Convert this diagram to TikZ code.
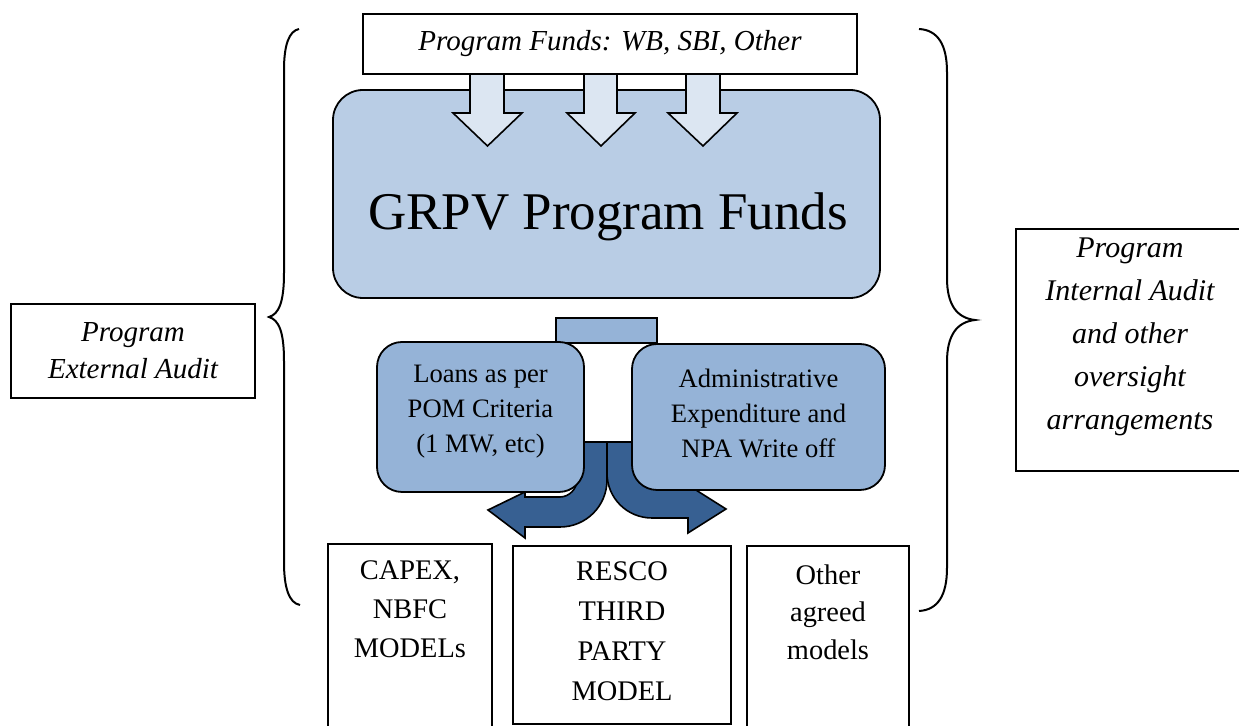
\documentclass[tikz,border=0pt]{standalone}
\usepackage{fontspec}
\setmainfont{Liberation Serif}
\definecolor{grpvfill}{HTML}{B9CDE5}
\definecolor{lightarrow}{HTML}{DCE6F2}
\definecolor{midblue}{HTML}{95B3D7}
\definecolor{darkblue}{HTML}{376092}
\tikzset{
  box/.style={draw=black, line width=0.9pt, fill=white, inner sep=0pt},
  rbox/.style={draw=black, line width=0.9pt, inner sep=0pt, rounded corners=12.5pt, fill=midblue},
  blk/.style={draw=black, line width=0.8pt, line join=miter},
  brace/.style={draw=black, line width=1pt},
  txt/.style={inner sep=0pt, align=center, text=black}
}
\begin{document}
\begin{tikzpicture}[x=0.5pt, y=-0.5pt]
\useasboundingbox (0,0) rectangle (1239,726);

% main funds box
\node[draw=black, line width=0.9pt, fill=grpvfill, rounded corners=15pt, minimum width=273.5pt, minimum height=104pt, inner sep=0pt] (grpv) at (606.5,194) {};
\node[txt, font={\fontsize{26.5}{30}\selectfont}] (grpvtxt) at (608,217) {GRPV Program Funds};

% down arrows
\draw[blk, fill=lightarrow] (470,74) -- (470,113) -- (453,113) -- (487.5,146) -- (522,113) -- (504,113) -- (504,74) -- cycle;
\draw[blk, fill=lightarrow] (584,74) -- (584,113) -- (567,113) -- (601,146) -- (635,113) -- (617,113) -- (617,74) -- cycle;
\draw[blk, fill=lightarrow] (686,74) -- (686,113) -- (668,113) -- (703,146) -- (737,113) -- (720,113) -- (720,74) -- cycle;

% top box
\node[box, minimum width=247pt, minimum height=30pt] (top) at (610,44) {};
\node[txt, font={\fontsize{14.5}{18}\selectfont\itshape}] (toptxt) at (610,44) {Program Funds: WB, SBI, Other};

% small connector rectangle
\node[draw=black, line width=0.9pt, fill=midblue, minimum width=50.5pt, minimum height=12.5pt, inner sep=0pt] (conn) at (606.5,330.5) {};

% U-turn arrows
\draw[blk, fill=darkblue] (607,442) -- (607,480) .. controls (607,506) and (586,527) .. (560,527) -- (525,527) -- (525,538) -- (488,510) -- (525,492) -- (525,497) -- (560,497) .. controls (569,497) and (577,489) .. (577,480) -- (577,442) -- cycle;
\draw[blk, fill=darkblue] (607,442) -- (607,473) .. controls (607,498) and (627,518) .. (652,518) -- (688,518) -- (688,533) -- (726,509) -- (688,485) -- (688,488) -- (652,488) .. controls (644,488) and (637,481) .. (637,473) -- (637,442) -- cycle;

% second level boxes
\node[rbox, minimum width=103.5pt, minimum height=75pt] (loans) at (480.5,417) {};
\node[txt, font={\fontsize{13.3}{17.5}\selectfont}] (loanstxt) at (480.5,412) {Loans as per\\POM Criteria\\(1 MW, etc)};
\node[rbox, minimum width=126.5pt, minimum height=73pt] (admin) at (758.5,417) {};
\node[txt, font={\fontsize{13.3}{17.5}\selectfont}] (admintxt) at (758.5,413) {Administrative\\Expenditure and\\NPA Write off};

% bottom boxes
\node[box, minimum width=82pt, minimum height=93pt] (capex) at (410,637) {};
\node[txt, font={\fontsize{14.2}{19.5}\selectfont}] (capextxt) at (410,609) {CAPEX,\\NBFC\\MODELs};
\node[box, minimum width=109pt, minimum height=89pt] (resco) at (622,635) {};
\node[txt, font={\fontsize{14.2}{20}\selectfont}] (rescotxt) at (622,631) {RESCO\\THIRD\\PARTY\\MODEL};
\node[box, minimum width=81pt, minimum height=92pt] (other) at (828,638) {};
\node[txt, font={\fontsize{14.2}{18.75}\selectfont}] (othertxt) at (828,612) {Other\\agreed\\models};

% side boxes
\node[box, minimum width=122pt, minimum height=47pt] (ext) at (133,351) {};
\node[txt, font={\fontsize{14.5}{18.5}\selectfont\itshape}] (exttxt) at (133,351) {Program\\External Audit};
\node[box, minimum width=114.5pt, minimum height=121pt] (int) at (1130.5,350) {};
\node[txt, font={\fontsize{15}{21.5}\selectfont\itshape}] (inttxt) at (1130,337) {Program\\Internal Audit\\and other\\oversight\\arrangements};

% braces
\coordinate (lbt) at (299,29);
\coordinate (lbm) at (269,317);
\coordinate (lbb) at (300,605);
\draw[brace] (lbt) .. controls (289,31) and (284,45) .. (284,70) -- (284,273) .. controls (284,302) and (279,314) .. (lbm) .. controls (279,320) and (284,332) .. (284,361) -- (284,562) .. controls (284,588) and (289,603) .. (lbb);
\coordinate (rbt) at (919,29);
\coordinate (rbm) at (975,320);
\coordinate (rbb) at (919,611);
\draw[brace] (rbt) .. controls (938,30) and (947,45) .. (947,72) -- (947,278) .. controls (947,305) and (957,318) .. (rbm) .. controls (957,322) and (947,335) .. (947,362) -- (947,568) .. controls (947,595) and (938,610) .. (rbb);
\end{tikzpicture}
\end{document}
